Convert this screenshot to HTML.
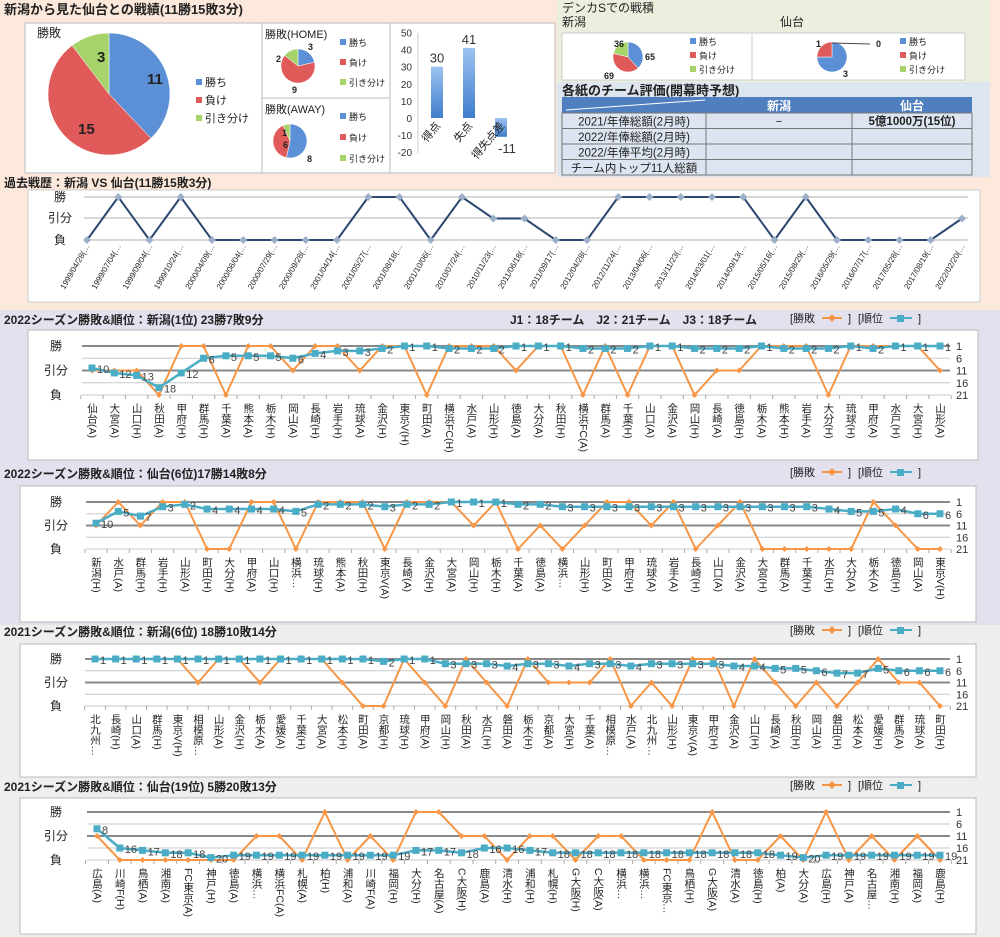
<!DOCTYPE html>
<html><head><meta charset="utf-8"><style>
body{margin:0;background:#fff}
svg{display:block;font-family:"Liberation Sans","Noto Sans CJK JP",sans-serif}
.vt{writing-mode:tb;glyph-orientation-vertical:0}
</style></head><body>
<svg id="s" width="1000" height="937" viewBox="0 0 1000 937" xmlns="http://www.w3.org/2000/svg"></svg>
<script>
const S=document.getElementById('s');let h='<defs><linearGradient id="bg" x1="0" y1="0" x2="0" y2="1"><stop offset="0" stop-color="#9cc3f0"/><stop offset="1" stop-color="#3f7ccc"/></linearGradient></defs>';
function R(x,y,w,hh,f,st){h+=`<rect x="${x}" y="${y}" width="${w}" height="${hh}" fill="${f}" ${st?`stroke="${st}" stroke-width="1"`:''}/>`;}
function T(x,y,t,o){o=o||{};h+=`<text x="${x}" y="${y}" font-size="${o.s||12}" fill="${o.c||'#222'}" ${o.b?'font-weight="bold"':''} text-anchor="${o.a||'start'}" ${o.tr?`transform="${o.tr}"`:''} ${o.cl?`class="${o.cl}"`:''}>${t}</text>`;}
function L(x1,y1,x2,y2,c,w){h+=`<line x1="${x1}" y1="${y1}" x2="${x2}" y2="${y2}" stroke="${c}" stroke-width="${w||1}"/>`;}
function pie(cx,cy,r,vals,cols){let tot=vals.reduce((a,b)=>a+b,0),a=-Math.PI/2;vals.forEach((v,i)=>{if(!v)return;let b=a+v/tot*2*Math.PI;let big=b-a>Math.PI?1:0;h+=`<path d="M${cx},${cy} L${cx+r*Math.cos(a)},${cy+r*Math.sin(a)} A${r},${r} 0 ${big} 1 ${cx+r*Math.cos(b)},${cy+r*Math.sin(b)} Z" fill="${cols[i]}" stroke="#fff" stroke-width="0.5"/>`;a=b;});}
const PC=['#5b8fd6','#e05a5a','#a6d46a'];
function legend(x,y,dy,s){['勝ち','負け','引き分け'].forEach((t,i)=>{R(x,y+i*dy-7,6,6,PC[i]);T(x+9,y+i*dy,t,{s:s||10});});}
R(0,0,1000,310,'#fce9db');R(557,0,433,82,'#ebf0de');R(557,82,433,95,'#dde5ee');
R(0,310,1000,315,'#e4e1ee');R(0,625,1000,312,'#eeeeee');
T(4,14,'新潟から見た仙台との戦績(11勝15敗3分)',{s:13,b:1});
R(25,23,237,150,'#fff','#bbb');T(37,37,'勝敗',{s:12});
pie(109,94,61,[11,15,3],PC);T(147,84,'11',{s:15,b:1});T(78,134,'15',{s:15,b:1});T(97,62,'3',{s:15,b:1});
legend(196,86,18,11);
R(262,23,128,75,'#fff','#bbb');T(265,38,'勝敗(HOME)',{s:11});pie(298,66,17,[3,9,2],PC);
T(308,50,'3',{s:9,b:1});T(276,62,'2',{s:9,b:1});T(292,93,'9',{s:9,b:1});legend(340,46,20,9);
R(262,98,128,75,'#fff','#bbb');T(265,113,'勝敗(AWAY)',{s:11});pie(290,141,17,[8,6,1],PC);
T(282,136,'1',{s:9,b:1});T(283,148,'6',{s:9,b:1});T(307,162,'8',{s:9,b:1});legend(340,120,21,9);
R(390,23,165,150,'#fff','#bbb');
for(let v=50;v>=-20;v-=10){let y=118-v*1.71;T(412,y+4,v,{s:10,a:'end',c:'#333'});}
L(418,33,418,153,'#ccc');
[[30,'得点',431],[41,'失点',463],[-11,'得失点差',495]].forEach(([v,n,x])=>{let y0=118,y=118-v*1.71;R(x,Math.min(y,y0),12,Math.abs(y-y0),'url(#bg)');T(v>0?x+6:x+12,(v>0?y-4:y+16),v,{s:13,a:'middle',c:'#333'});T(x+10,126,n,{s:11,a:'end',tr:`rotate(-50 ${x+10} 126)`});});
T(562,12,'デンカSでの戦積',{s:12});T(562,26,'新潟',{s:12});T(780,26,'仙台',{s:12});
R(562,33,190,47,'#fff','#ccc');R(752,33,213,47,'#fff','#ccc');
pie(628,57,15,[65,69,36],PC);T(614,47,'36',{s:9,b:1});T(645,60,'65',{s:9,b:1});T(604,79,'69',{s:9,b:1});legend(690,45,14,9);
pie(832,57,15,[3,1,0],PC);T(816,47,'1',{s:9,b:1});T(876,47,'0',{s:9,b:1});L(832,43,870,44,'#444');T(843,77,'3',{s:9,b:1});legend(900,45,14,9);
T(562,95,'各紙のチーム評価(開幕時予想)',{s:13,b:1});
R(562,97,410,16,'#4f7fbf');L(566,110,705,100,'#fff');T(779,110,'新潟',{s:12,b:1,c:'#fff',a:'middle'});T(912,110,'仙台',{s:12,b:1,c:'#fff',a:'middle'});
['2021/年俸総額(2月時)','2022/年俸総額(2月時)','2022/年俸平均(2月時)','チーム内トップ11人総額'].forEach((t,i)=>{let y=113+i*15.5;R(562,y,144,15.5,'#dce5f1','#777');R(706,y,146,15.5,'#dce5f1','#777');R(852,y,120,15.5,'#dce5f1','#777');T(634,y+12.5,t,{s:11.5,a:'middle'});});
T(779,125,'−',{s:11,a:'middle'});T(912,125,'5億1000万(15位)',{s:11.5,b:1,a:'middle'});
T(4,187,'過去戦歴：新潟 VS 仙台(11勝15敗3分)',{s:12,b:1});
R(28,190,952,112,'#fff','#ccc');
[197,218,240].forEach(y=>L(84,y,968,y,'#ccc',1.5));
T(60,201,'勝',{s:12,a:'middle'});T(60,222,'引分',{s:12,a:'middle'});T(60,244,'負',{s:12,a:'middle'});
const hd=[0,2,0,2,0,0,0,0,0,2,2,0,2,1,1,0,0,2,2,2,2,2,0,2,0,0,0,0,1];
const dates=['1999/04/28','1999/07/04','1999/09/04','1999/10/24','2000/04/09','2000/06/04','2000/07/29','2000/09/28','2001/04/14','2001/05/27','2001/08/18','2001/10/06','2010/07/24','2010/11/23','2011/06/18','2011/09/17','2012/04/28','2012/11/24','2013/04/06','2013/11/23','2014/03/01','2014/09/13','2015/05/16','2015/08/29','2016/05/29','2016/07/17','2017/05/28','2017/08/19','2022/02/20'];
let pts=hd.map((v,i)=>[87+i*31.25,240-v*21.5]);
h+=`<polyline points="${pts.map(p=>p.join(',')).join(' ')}" fill="none" stroke="#2c4770" stroke-width="2"/>`;
pts.forEach((p,i)=>{h+=`<path d="M${p[0]},${p[1]-4}l4,4l-4,4l-4,-4z" fill="#9bb0c8"/>`;T(p[0]+3,246,dates[i]+'(…',{s:8,a:'end',tr:`rotate(-60 ${p[0]+3} 246)`});});
function chart(o){
 R(o.bx,o.by,o.bw,o.bh,'#fff','#bbb');
 T(4,o.ty,o.title,{s:12,b:1});
 T(790,o.ty-2,'[勝敗',{s:11});L(822,o.ty-6,842,o.ty-6,'#f79646',2);h+=`<path d="M832,${o.ty-10}l4,4l-4,4l-4,-4z" fill="#f79646"/>`;T(848,o.ty-2,']',{s:11});
 T(858,o.ty-2,'[順位',{s:11});L(890,o.ty-6,912,o.ty-6,'#4bacc6',2);R(897,o.ty-9,7,7,'#4bacc6');T(918,o.ty-2,']',{s:11});
 const y=r=>o.y1+(r-1)/20*(o.y21-o.y1);
 const x0=o.x0,x1=o.x1,n=o.lab.length,dx=(x1-x0)/(n-1);
 [1,6,11,16,21].forEach(r=>{L(x0-10,y(r),x1+10,y(r),(r==1||r==11)?'#888':'#c8c8c8',(r==1||r==11)?2:1);T(x1+16,y(r)+4,r,{s:11,c:'#333'});});
 T(56,y(1)+4,'勝',{s:12,a:'middle'});T(56,y(11)+4,'引分',{s:12,a:'middle'});T(56,y(21)+4,'負',{s:12,a:'middle'});
 const X=i=>x0+i*dx;
 for(let i=0;i<=n;i++)L(X(i)-dx/2,y(21),X(i)-dx/2,y(21)+4,'#aaa');
 const res=o.res.split('').map(c=>c=='W'?1:c=='D'?11:21);
 h+=`<polyline points="${res.map((r,i)=>X(i)+','+y(r)).join(' ')}" fill="none" stroke="#f79646" stroke-width="2"/>`;
 res.forEach((r,i)=>h+=`<path d="M${X(i)},${y(r)-3}l3,3l-3,3l-3,-3z" fill="#f79646"/>`);
 h+=`<polyline points="${o.rk.map((r,i)=>X(i)+','+y(r)).join(' ')}" fill="none" stroke="#4bacc6" stroke-width="2.5"/>`;
 o.rk.forEach((r,i)=>{R(X(i)-3.5,y(r)-3.5,7,7,'#4bacc6');T(X(i)+5,y(r)+5,r,{s:11,c:'#444'});});
 o.lab.forEach((t,i)=>T(X(i),y(21)+8,t,{s:10.5,cl:'vt'}));
}
chart({title:'2022シーズン勝敗&順位：新潟(1位) 23勝7敗9分',ty:324,bx:28,by:330,bw:950,bh:130,y1:346,y21:395,x0:92,x1:940,
lab:'仙台(A),大宮(A),山口(H),秋田(A),甲府(H),群馬(H),千葉(A),熊本(A),栃木(H),岡山(A),長崎(H),岩手(H),琉球(A),金沢(H),東京V(H),町田(A),横浜FC(H),水戸(A),山形(H),徳島(A),大分(A),秋田(H),横浜FC(A),群馬(A),千葉(H),山口(A),金沢(A),岡山(H),長崎(A),徳島(H),栃木(A),熊本(H),岩手(A),大分(H),琉球(H),甲府(A),水戸(H),大宮(H),山形(A)'.split(','),
res:'DDDLWWLWWDWWDWWLWWWDWWLWLWWLDDWWWLWWWWD',
rk:[10,12,13,18,12,6,5,5,5,6,4,3,3,2,1,1,2,2,2,1,1,1,2,2,2,1,1,2,2,2,1,2,2,2,1,2,1,1,1]});
T(510,324,'J1：18チーム　J2：21チーム　J3：18チーム',{s:12,b:1});
chart({title:'2022シーズン勝敗&順位：仙台(6位)17勝14敗8分',ty:478,bx:20,by:486,bw:956,bh:136,y1:502,y21:549,x0:96,x1:940,
lab:'新潟(H),水戸(A),群馬(H),岩手(H),山形(A),町田(H),大分(H),甲府(A),山口(H),横浜…,琉球(H),熊本(A),秋田(H),東京V(A),長崎(A),金沢(H),大宮(A),岡山(H),栃木(H),千葉(A),徳島(A),横浜…,山形(H),町田(A),甲府(H),琉球(A),岩手(A),長崎(H),山口(A),金沢(A),大宮(H),群馬(A),千葉(H),水戸(H),大分(A),栃木(A),徳島(H),岡山(A),東京V(H)'.split(','),
res:'DWDWWLLWWLWWWLWWWDWLDLDWWDWLDWLLLLLWDLL',
rk:[10,5,7,3,2,4,4,4,4,5,2,2,2,3,2,2,1,1,1,2,2,3,3,3,3,3,3,3,3,3,3,3,3,4,5,5,4,6,6]});
chart({title:'2021シーズン勝敗&順位：新潟(6位) 18勝10敗14分',ty:636,bx:20,by:644,bw:956,bh:133,y1:659,y21:706,x0:95,x1:940,
lab:'北九州…,長崎(H),山口(A),群馬(H),東京V(H),相模原…,山形(A),金沢(H),栃木(A),愛媛(A),千葉(H),大宮(A),松本(H),町田(A),京都(H),琉球(H),甲府(A),岡山(H),秋田(A),水戸(H),磐田(A),栃木(H),京都(A),大宮(H),千葉(A),相模原…,水戸(A),北九州…,山形(H),東京V(A),甲府(H),金沢(A),山口(H),長崎(A),秋田(H),岡山(A),磐田(H),松本(A),愛媛(H),群馬(A),琉球(A),町田(H)'.split(','),
res:'WWWWWDWWDWWWDLLWDLWDLWDDDWLDLWWLWDLDLDWDDL',
rk:[1,1,1,1,1,1,1,1,1,1,1,1,1,1,2,1,1,3,3,3,4,3,3,4,3,3,4,3,3,3,3,4,4,5,5,6,7,7,5,6,6,6]});
chart({title:'2021シーズン勝敗&順位：仙台(19位) 5勝20敗13分',ty:791,bx:20,by:798,bw:956,bh:136,y1:812,y21:860,x0:97,x1:940,
lab:'広島(A),川崎F(H),鳥栖(A),湘南(A),FC東京(A),神戸(H),徳島(A),横浜…,横浜FC(A),札幌(A),柏(H),浦和(A),川崎F(A),福岡(H),大分(H),名古屋(A),C大阪(H),鹿島(A),清水(H),浦和(H),札幌(H),G大阪(H),C大阪(A),横浜…,横浜…,FC東京…,鳥栖(H),G大阪(A),清水(A),徳島(H),柏(A),大分(A),広島(H),神戸(A),名古屋…,湘南(H),福岡(A),鹿島(H)'.split(','),
res:'DLLLLLLDDLWLDLWWDDLDDLDDLLLWLLDLWLDLDL',
rk:[8,16,17,18,18,20,19,19,19,19,19,19,19,19,17,17,18,16,16,17,18,18,18,18,18,18,18,18,18,18,19,20,19,19,19,19,19,19]});
S.innerHTML=h;
</script>
</body></html>
